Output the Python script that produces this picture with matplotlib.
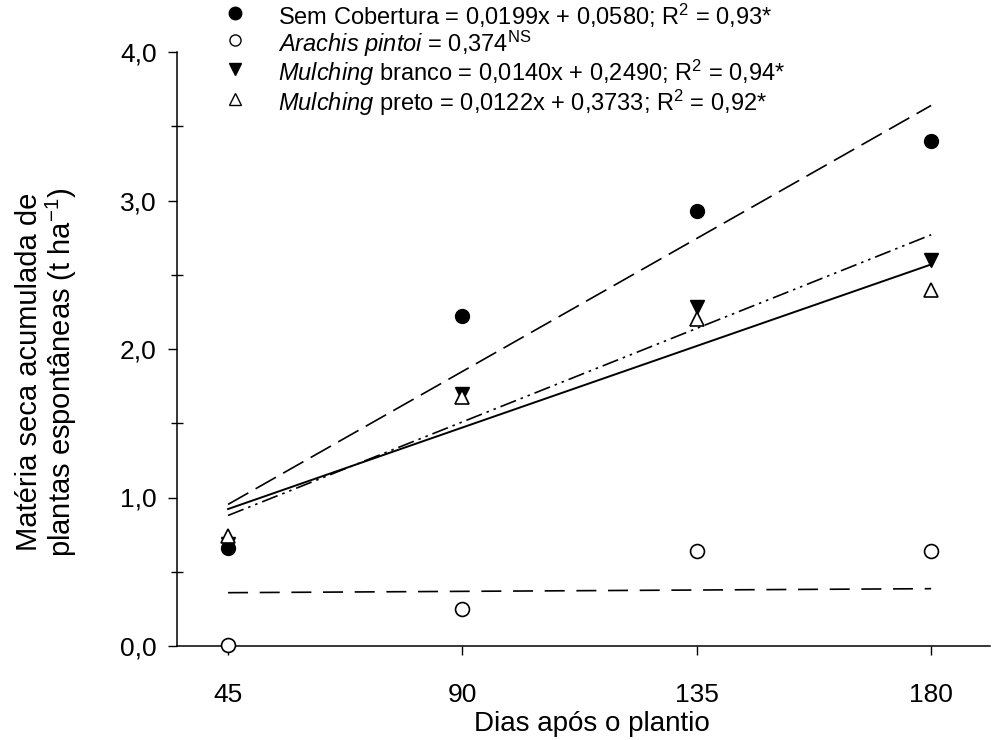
import numpy as np
import matplotlib.pyplot as plt
from matplotlib.lines import Line2D

plt.rcParams['font.family'] = ['Liberation Sans', 'DejaVu Sans']
plt.rcParams['mathtext.fontset'] = 'custom'
plt.rcParams['mathtext.rm'] = 'Liberation Sans'
plt.rcParams['mathtext.it'] = 'Liberation Sans:italic'

# Days after planting
dias = [45, 90, 135, 180]

# Accumulated dry matter (t/ha) per treatment
sem_cobertura = [0.66, 2.22, 2.93, 3.40]
arachis = [0.01, 0.25, 0.64, 0.64]
mulching_branco = [0.69, 1.70, 2.28, 2.60]
mulching_preto = [0.74, 1.68, 2.20, 2.40]

# Fitted regressions (slope, intercept)
fit_sem = (0.0199, 0.0580)
fit_arachis = (0.0002, 0.350)
fit_branco = (0.0140, 0.2490)
fit_preto = (0.0122, 0.3733)

labels = [
    r'Sem Cobertura = 0,0199x + 0,0580; R$^2$ = 0,93*',
    r'$\it{Arachis\ pintoi}$ = 0,374$^{\rm NS}$',
    r'$\it{Mulching}$ branco = 0,0140x + 0,2490; R$^2$ = 0,94*',
    r'$\it{Mulching}$ preto = 0,0122x + 0,3733; R$^2$ = 0,92*',
]

W, H = 1007, 740
x0, x1, y0, y1 = 177, 990, 646, 52   # axes box in pixels
fig = plt.figure(figsize=(W / 100, H / 100), dpi=100)
ax = fig.add_axes([x0 / W, 1 - y0 / H, (x1 - x0) / W, (y0 - y1) / H])

x = np.array([dias[0], dias[-1]])
lw = 1.2
ax.plot(x, fit_sem[0] * x + fit_sem[1], color='black', lw=lw, dashes=(14, 5))
ax.plot(x, fit_arachis[0] * x + fit_arachis[1], color='black', lw=lw, dashes=(12, 7))
ax.plot(x, fit_branco[0] * x + fit_branco[1], color='black', lw=lw,
        dashes=(10, 3, 1.5, 3, 1.5, 3))
ax.plot(x, fit_preto[0] * x + fit_preto[1], color='black', lw=1.4)

ms = 10
ax.plot(dias, mulching_branco, 'v', color='black', ms=ms, clip_on=False, zorder=3)
ax.plot(dias, sem_cobertura, 'o', color='black', ms=ms, clip_on=False, zorder=3)
ax.plot(dias, arachis, 'o', mfc='white', mec='black', mew=1.2, ms=ms,
        clip_on=False, zorder=4)
ax.plot(dias, mulching_preto, '^', mfc='white', mec='black', mew=1.2, ms=ms,
        clip_on=False, zorder=4)

ax.set_xlim(35.2, 191.3)
ax.set_ylim(0, 4)
ax.set_xticks(dias)
ax.set_yticks([0, 1, 2, 3, 4])
ax.set_yticklabels(['0,0', '1,0', '2,0', '3,0', '4,0'])
ax.set_yticks(np.arange(0.5, 4, 1), minor=True)
ax.tick_params(axis='both', which='major', direction='out', length=6.5, width=1,
               labelsize=19)
ax.tick_params(axis='x', which='major', pad=20)
ax.tick_params(axis='y', which='major', pad=8)
ax.tick_params(axis='y', which='minor', direction='inout', length=9, width=1)
ax.spines['top'].set_visible(False)
ax.spines['right'].set_visible(False)
ax.spines['left'].set_linewidth(1.1)
ax.spines['bottom'].set_linewidth(1.1)

ax.set_xlabel('Dias após o plantio', fontsize=20, va='center')
ax.xaxis.set_label_coords((592 - x0) / (x1 - x0), (y0 - 724) / (y0 - y1))
ax.set_ylabel('Matéria seca acumulada de\nplantas espontâneas (t ha$^{-1}$)',
              fontsize=21, va='center', linespacing=1.0)
ax.yaxis.set_label_coords((47 - x0) / (x1 - x0), (y0 - 372) / (y0 - y1))

# Legend drawn row by row in figure pixels
markers = [
    dict(marker='o', color='black', ms=9),
    dict(marker='o', mfc='white', mec='black', ms=8),
    dict(marker='v', color='black', ms=9),
    dict(marker='^', mfc='white', mec='black', ms=9),
]
rows_y = [13, 40, 69, 99]
for style, label, yp in zip(markers, labels, rows_y):
    fig.add_artist(Line2D([235 / W], [1 - yp / H], ls='none',
                          transform=fig.transFigure, **style))
    fig.text(278 / W, 1 - yp / H, label, fontsize=17, ha='left', va='center_baseline')

fig.savefig('out.png', dpi=100)
